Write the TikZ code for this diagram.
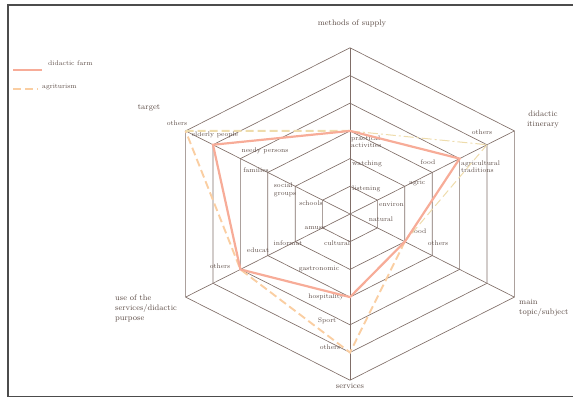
\documentclass[tikz,border=0pt]{standalone}
\usepackage{xcolor}
\usepackage{tikz}

\definecolor{gridcol}{RGB}{128,110,104}
\definecolor{txtcol}{RGB}{92,76,70}
\definecolor{farmcol}{RGB}{247,172,152}
\definecolor{agricol}{RGB}{250,206,162}
\definecolor{agrilight}{RGB}{238,220,172}

\begin{document}
\begin{tikzpicture}[x=1pt,y=-1pt,
        grid/.style={draw=gridcol, line width=0.65pt},
        farm/.style={draw=farmcol, line width=2.2pt},
        agri/.style={draw=agricol, line width=1.9pt, dash pattern=on 8pt off 4pt},
        lbl/.style={font=\fontsize{6.7}{7.4}\selectfont, text=txtcol, inner sep=0pt, align=left},
        ttl/.style={font=\fontsize{8}{10}\selectfont, text=txtcol, inner sep=0pt, align=left}]
        \useasboundingbox (0,0) rectangle (573,397);

        % frame
        \draw[line width=1.6pt, black!70] (573,5) -- (8,5) -- (8,396.5) -- (573,396.5);

        % spokes and levels
        \coordinate (O) at (350,214);
        \foreach \k in {1,...,6} {
            \coordinate (T\k) at (350, 214-27.7*\k);
            \coordinate (UR\k) at (350+27.4*\k, 214-13.85*\k);
            \coordinate (LR\k) at (350+27.4*\k, 214+13.85*\k);
            \coordinate (B\k) at (350, 214+27.7*\k);
            \coordinate (LL\k) at (350-27.4*\k, 214+13.85*\k);
            \coordinate (UL\k) at (350-27.4*\k, 214-13.85*\k);
            \draw[grid] (T\k) -- (UR\k) -- (LR\k) -- (B\k) -- (LL\k) -- (UL\k) -- cycle;
        }
        \draw[grid] (O) -- (T6);
        \draw[grid] (O) -- (UR6);
        \draw[grid] (O) -- (LR6);
        \draw[grid] (O) -- (B6);
        \draw[grid] (O) -- (LL6);
        \draw[grid] (O) -- (UL6);

        % axis titles
        \node[ttl] (supply) at (352,23) {methods of supply};
        \node[ttl, align=center] (itinerary) at (543,120) {didactic\\itinerary};
        \node[ttl, anchor=west] (topic) at (519,308) {main\\topic/subject};
        \node[ttl] (services) at (350,386) {services};
        \node[ttl, anchor=west] (purpose) at (115,308) {use of the\\services/didactic\\purpose};
        \node[ttl] (target) at (149,108) {target};

        % methods of supply
        \node[lbl, anchor=west] (listening) at (352,189) {listening};
        \node[lbl, anchor=west] (watching) at (352,164) {watching};
        \node[lbl, anchor=west] (practical) at (351,142) {practical\\activities};

        % didactic itinerary
        \node[lbl, anchor=west] (environ) at (379,204) {environ};
        \node[lbl, anchor=west] (agric) at (409,183) {agric};
        \node[lbl] (foodA) at (428,162) {food};
        \node[lbl, anchor=west] (traditions) at (461,167) {agricultural\\traditions};
        \node[lbl] (othersA) at (482,132) {others};

        % main topic/subject
        \node[lbl] (natural) at (381,219) {natural};
        \node[lbl] (foodB) at (419,231) {food};
        \node[lbl] (othersB) at (438,243) {others};

        % services
        \node[lbl] (cultural) at (337,243) {cultural};
        \node[lbl] (gastronomic) at (319,269) {gastronomic};
        \node[lbl] (hospitality) at (326,297) {hospitality};
        \node[lbl] (sport) at (327,321) {Sport};
        \node[lbl] (othersC) at (330,347) {others};

        % use of the services
        \node[lbl] (amuse) at (315,228) {amuse};
        \node[lbl] (informat) at (288,243) {informat};
        \node[lbl] (educat) at (258,250) {educat};
        \node[lbl] (othersD) at (220,266) {others};

        % target
        \node[lbl] (schools) at (311,203) {schools};
        \node[lbl] (social) at (285,190) {social\\groups};
        \node[lbl] (families) at (256,170) {families};
        \node[lbl] (needy) at (265,151) {needy persons};
        \node[lbl] (elderly) at (215,135) {elderly people};
        \node[lbl] (othersE) at (177,123) {others};

        % agriturism
        \draw[agri] (LR2) -- (B5) -- (LL4) -- (UL6);
        \draw[agri, draw=agrilight] (UL6) -- (T3);
        \draw[agri, draw=agrilight, line width=1pt, dash pattern=on 10pt off 3pt on 2pt off 3pt] (T3) -- (UR5);
        \draw[agri, draw=agrilight, line width=1pt] (UR5) -- (LR2);

        % didactic farm
        \draw[farm] (UL5) -- (T3) -- (UR4) -- (LR2) -- (B3) -- (LL4) -- cycle;

        % legend
        \coordinate (farmA) at (13,70);
        \coordinate (farmB) at (42,70);
        \coordinate (agriA) at (13,89);
        \coordinate (agriB) at (38,89);
        \draw[farm] (farmA) -- (farmB);
        \draw[agri] (agriA) -- (agriB);
        \node[lbl, anchor=west] (farmkey) at (48,63) {didactic farm};
        \node[lbl, anchor=west] (agrikey) at (42,87) {agriturism};
    \end{tikzpicture}
\end{document}
